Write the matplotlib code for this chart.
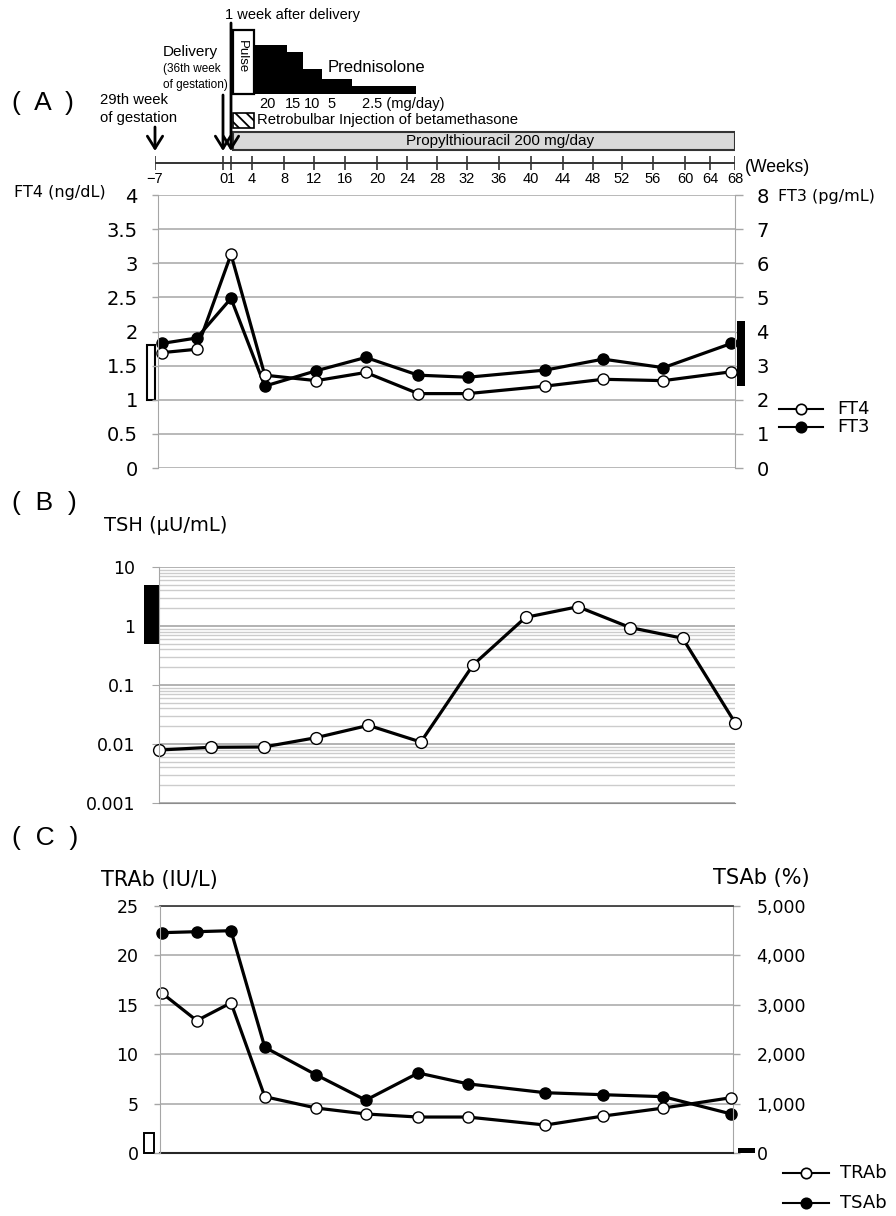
import numpy as np
import matplotlib
matplotlib.use("Agg")
import matplotlib.pyplot as plt
from matplotlib.patches import Rectangle
from matplotlib.lines import Line2D
import matplotlib.transforms as mtransforms

plt.rcParams['hatch.linewidth'] = 1.3

# ---------------- data ----------------
timeline_ticks = [-7, 0, 1, 4, 8, 12, 16, 20, 24, 28, 32, 36, 40, 44, 48, 52, 56, 60, 64, 68]
event_weeks = [-7, 0, 1]           # 29th week of gestation, delivery, 1 week after delivery

pulse_weeks = (1.3, 4.25)
pred_edges = [4.25, 8.4, 10.5, 13.0, 16.9, 25.2]
pred_doses = [20, 15, 10, 5, 2.5]
retro_weeks = (1.3, 4.25)
ptu_weeks = (1.3, 68)

sample_weeks = [-6.3, -2.7, 1.0, 5.6, 12.3, 18.6, 25.5, 32.1, 41.8, 49.4, 57.3, 67.4]
ft4 = [1.69, 1.74, 3.13, 1.36, 1.28, 1.40, 1.09, 1.09, 1.20, 1.30, 1.28, 1.41]
ft3 = [3.65, 3.81, 4.97, 2.40, 2.85, 3.24, 2.72, 2.66, 2.87, 3.19, 2.94, 3.65]
tsh = [0.0079, 0.0088, 0.0089, 0.0128, 0.0207, 0.0108, 0.22, 1.40, 2.12, 0.94, 0.62, 0.023]
trab = [16.2, 13.4, 15.2, 5.7, 4.55, 3.95, 3.64, 3.64, 2.83, 3.74, 4.55, 5.6]
tsab = [4460, 4480, 4500, 2140, 1580, 1070, 1620, 1400, 1220, 1180, 1140, 790]

ft4_ref = (1.0, 1.8)
ft3_ref = (2.4, 4.3)
tsh_ref = (0.5, 5.0)
trab_ref = (0.0, 2.0)
tsab_ref = (0, 110)

# ---------------- layout / style ----------------
W, H = 896, 1216
tick_px = [155, 223, 231, 252, 284, 314, 345, 377, 407, 437, 467, 499, 531, 563, 593, 622, 653, 685, 710, 735]
pred_heights = [49, 42, 25, 15, 8]
ARIAL = ['Liberation Sans', 'DejaVu Sans']
VS = ['DejaVu Sans']
GRID = '#a6a6a6'


def fwd(w):
    return np.interp(w, timeline_ticks, tick_px)


def inv(p):
    return np.interp(p, tick_px, timeline_ticks)


def rect(x0, y0, x1, y1):
    return [x0 / W, 1 - y1 / H, (x1 - x0) / W, (y1 - y0) / H]


fig = plt.figure(figsize=(W / 100, H / 100), dpi=100)


def T(x, y, s, size, family=ARIAL, ha='left', va='center', **kw):
    fig.text(x / W, 1 - y / H, s, fontsize=size, family=family, ha=ha, va=va, **kw)


# ---------------- timeline ----------------
axt = fig.add_axes(rect(155, 0, 735, 185))
axt.set_xscale('function', functions=(fwd, inv))
axt.set_xlim(-7, 68)
axt.set_ylim(185, 0)
axt.axis('off')

axt.axhline(163, color='#333333', lw=1.4)
axt.vlines(timeline_ticks, 156, 170, color='#333333', lw=1.2)
for w in timeline_ticks:
    lab = f"{w}".replace('-', '\u2212')
    axt.text(w, 179, lab, ha='center', va='center', fontsize=10.5, family=ARIAL)

arrow_tops = [127, 95, 23]
for w, top in zip(event_weeks, arrow_tops):
    axt.annotate('', xy=(w, 151), xytext=(w, top),
                 arrowprops=dict(arrowstyle='->,head_length=0.8,head_width=0.5', lw=2,
                                 color='black', shrinkA=0, shrinkB=0, mutation_scale=11))

axt.add_patch(Rectangle((pulse_weeks[0], 30), pulse_weeks[1] - pulse_weeks[0], 64,
                        fc='white', ec='black', lw=1.6))
pmid = inv((fwd(pulse_weeks[0]) + fwd(pulse_weeks[1])) / 2 - 2)
axt.text(pmid, 57, 'Pulse', rotation=270, ha='center', va='center', fontsize=9.5, family=ARIAL)

axt.bar(pred_edges[:-1], [-h for h in pred_heights], width=np.diff(pred_edges),
        bottom=94, align='edge', color='black', lw=0)

dose_offsets = [-3, -2, 0, -5, -22]
for i, d in enumerate(pred_doses):
    cpx = (fwd(pred_edges[i]) + fwd(pred_edges[i + 1])) / 2 + dose_offsets[i]
    if i == len(pred_doses) - 1:
        axt.text(inv(cpx), 104, f"{d:g} (mg/day)", ha='left', va='center', fontsize=10.5, family=ARIAL)
    else:
        axt.text(inv(cpx), 104, f"{d:g}", ha='center', va='center', fontsize=10.5, family=ARIAL)

axt.add_patch(Rectangle((retro_weeks[0], 113), retro_weeks[1] - retro_weeks[0], 15,
                        fc='white', ec='black', lw=1.2, hatch='\\\\\\'))
axt.add_patch(Rectangle((ptu_weeks[0], 132), ptu_weeks[1] - ptu_weeks[0], 18,
                        fc='#d9d9d9', ec='#333333', lw=1.5))

T(225, 15, '1 week after delivery', 10.5)
T(163, 52, 'Delivery', 11)
T(163, 69, '(36th week', 8.5)
T(163, 85, 'of gestation)', 8.5)
T(100, 100, '29th week', 10.7)
T(100, 118, 'of gestation', 10.7)
T(12, 103, '(  A  )', 19)
T(328, 68, 'Prednisolone', 12)
T(257, 120, 'Retrobulbar Injection of betamethasone', 10.7)
T(500, 141, 'Propylthiouracil 200 mg/day', 11, ha='center')
T(745, 168, '(Weeks)', 12.7)


def style_twin(ax, ax2, ylab_size, family):
    ax.set_zorder(ax2.get_zorder() + 1)
    ax.patch.set_visible(False)
    ax2.set_axisbelow(True)
    ax2.yaxis.grid(True, color=GRID, lw=1.1)
    ax.set_xticks([])
    ax2.set_xticks([])
    ax.tick_params(axis='x', length=0)
    for a in (ax, ax2):
        for s in a.spines.values():
            s.set_visible(False)
    ax.spines['left'].set_visible(True)
    ax.spines['left'].set_color(GRID)
    ax2.spines['right'].set_visible(True)
    ax2.spines['right'].set_color(GRID)
    for lab in ax.get_yticklabels() + ax2.get_yticklabels():
        lab.set_family(family)
        lab.set_fontsize(ylab_size)


# ---------------- panel A ----------------
axA = fig.add_axes(rect(158, 195, 735, 468))
axA.set_xscale('function', functions=(fwd, inv))
axA.set_xlim(inv(158), 68)
axA2 = axA.twinx()
axA.set_ylim(0, 4)
axA2.set_ylim(0, 8)
a_ticks = np.arange(0, 4.01, 0.5)
axA.set_yticks(a_ticks, [f"{v:g}" for v in a_ticks])
axA2.set_yticks(range(0, 9), [str(v) for v in range(0, 9)])
axA.tick_params(axis='y', direction='out', length=4.5, width=1, color=GRID, pad=10)
axA2.tick_params(axis='y', direction='out', length=5.5, width=1, color=GRID, pad=10)
style_twin(axA, axA2, 14, VS)

axA2.plot(sample_weeks, ft3, '-o', color='black', lw=2.3, ms=8, mfc='black', mec='black', clip_on=False)
axA.plot(sample_weeks, ft4, '-o', color='black', lw=2.3, ms=8, mfc='white', mec='black', mew=1, clip_on=False)

trA = mtransforms.blended_transform_factory(axA.transAxes, axA.transData)
axA.add_patch(Rectangle(((147 - 158) / 577, ft4_ref[0]), 8 / 577, ft4_ref[1] - ft4_ref[0],
                        transform=trA, fc='white', ec='black', lw=1.5, clip_on=False))
trA2 = mtransforms.blended_transform_factory(axA2.transAxes, axA2.transData)
axA2.add_patch(Rectangle(((737 - 158) / 577, ft3_ref[0]), 8 / 577, ft3_ref[1] - ft3_ref[0],
                         transform=trA2, fc='black', ec='none', clip_on=False))

T(14, 193, 'FT4 (ng/dL)', 11.5, family=VS)
T(778, 197, 'FT3 (pg/mL)', 11.5, family=VS)

# ---------------- panel B ----------------
T(12, 503, '(  B  )', 19)
T(227, 525, 'TSH (\u03bcU/mL)', 14, family=VS, ha='right')
axB = fig.add_axes(rect(159, 567, 735, 803))
axB.set_yscale('log')
axB.set_ylim(0.001, 10)
xcat = np.arange(len(tsh))
axB.set_xlim(0, len(tsh) - 1)
axB.set_yticks([0.001, 0.01, 0.1, 1, 10], ['0.001', '0.01', '0.1', '1', '10'])
axB.yaxis.set_minor_locator(matplotlib.ticker.LogLocator(subs=range(2, 10), numticks=20))
axB.yaxis.set_minor_formatter(matplotlib.ticker.NullFormatter())
axB.set_axisbelow(True)
axB.yaxis.grid(True, which='major', color=GRID, lw=1.2)
axB.yaxis.grid(True, which='minor', color='#cccccc', lw=1.0)
axB.set_xticks([])
axB.tick_params(axis='y', which='major', direction='out', length=5, color=GRID, pad=12)
axB.tick_params(axis='y', which='minor', length=0)
for s in ('top', 'right'):
    axB.spines[s].set_visible(False)
axB.spines['left'].set_color(GRID)
axB.spines['bottom'].set_color('#8c8c8c')
for lab in axB.get_yticklabels():
    lab.set_family(VS)
    lab.set_fontsize(12.5)
axB.plot(xcat, tsh, '-o', color='black', lw=2.3, ms=8.5, mfc='white', mec='black', mew=1, clip_on=False)
trB = mtransforms.blended_transform_factory(axB.transAxes, axB.transData)
axB.add_patch(Rectangle(((144 - 159) / 576, tsh_ref[0]), 15 / 576, tsh_ref[1] - tsh_ref[0],
                        transform=trB, fc='black', ec='none', clip_on=False))

# ---------------- panel C ----------------
T(12, 838, '(  C  )', 19)
T(218, 880, 'TRAb (IU/L)', 15, family=VS, ha='right')
T(810, 878, 'TSAb (%)', 15, family=VS, ha='right')
axC = fig.add_axes(rect(160, 906, 733, 1153))
axC.set_xscale('function', functions=(fwd, inv))
axC.set_xlim(inv(160), inv(733))
axC2 = axC.twinx()
axC.set_ylim(0, 25)
axC2.set_ylim(0, 5000)
axC.set_yticks(range(0, 26, 5), [str(v) for v in range(0, 26, 5)])
axC2.set_yticks(range(0, 5001, 1000), [f"{v:,}" for v in range(0, 5001, 1000)])
axC.tick_params(axis='y', direction='out', length=4.5, width=1, color=GRID, pad=11)
axC2.tick_params(axis='y', direction='out', length=5, width=1, color=GRID, pad=12)
style_twin(axC, axC2, 12.5, VS)
axC2.spines['top'].set_visible(True)
axC2.spines['top'].set_color('#404040')
axC2.spines['top'].set_linewidth(1.3)
axC2.spines['bottom'].set_visible(True)
axC2.spines['bottom'].set_color('#262626')
axC2.spines['bottom'].set_linewidth(1.5)

axC2.plot(sample_weeks, tsab, '-o', color='black', lw=2.3, ms=8, mfc='black', mec='black', clip_on=False)
axC.plot(sample_weeks, trab, '-o', color='black', lw=2.3, ms=8, mfc='white', mec='black', mew=1, clip_on=False)

trC = mtransforms.blended_transform_factory(axC.transAxes, axC.transData)
axC.add_patch(Rectangle(((144 - 160) / 573, trab_ref[0]), 10 / 573, trab_ref[1] - trab_ref[0],
                        transform=trC, fc='white', ec='black', lw=1.4, clip_on=False))
trC2 = mtransforms.blended_transform_factory(axC2.transAxes, axC2.transData)
axC2.add_patch(Rectangle(((738 - 160) / 573, tsab_ref[0]), 17 / 573, tsab_ref[1] - tsab_ref[0],
                         transform=trC2, fc='black', ec='none', clip_on=False))


# ---------------- legends ----------------
def legend_entry(x0, x1, y, filled, label, tx):
    yy = 1 - y / H
    fig.add_artist(Line2D([x0 / W, x1 / W], [yy, yy], color='black', lw=1.5))
    fig.add_artist(Line2D([(x0 + x1) / 2 / W], [yy], marker='o', ms=7.5,
                          mfc='black' if filled else 'white', mec='black', mew=1.2, ls='none'))
    T(tx, y, label, 13, family=VS)


legend_entry(779, 823, 409, False, 'FT4', 837)
legend_entry(779, 823, 427, True, 'FT3', 837)
legend_entry(783, 829, 1173, False, 'TRAb', 840)
legend_entry(783, 829, 1203, True, 'TSAb', 840)

fig.savefig('out.png', dpi=100)
